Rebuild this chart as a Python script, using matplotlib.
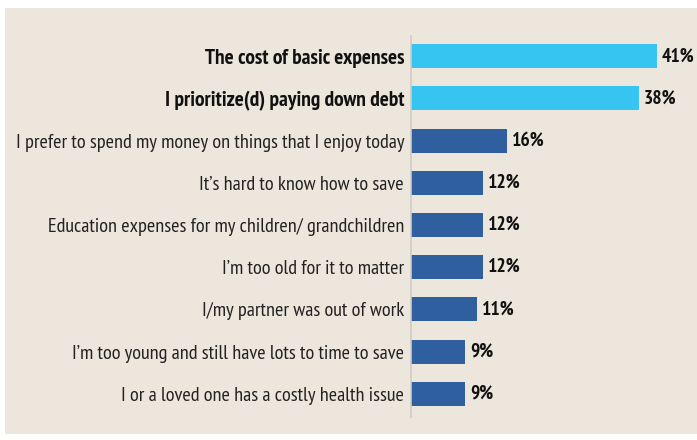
import matplotlib.pyplot as plt
from matplotlib.patches import Rectangle

reasons = [
    "The cost of basic expenses",
    "I prioritize(d) paying down debt",
    "I prefer to spend my money on things that I enjoy today",
    "It\u2019s hard to know how to save",
    "Education expenses for my children/ grandchildren",
    "I\u2019m too old for it to matter",
    "I/my partner was out of work",
    "I\u2019m too young and still have lots to time to save",
    "I or a loved one has a costly health issue",
]
shares = [41, 38, 16, 12, 12, 12, 11, 9, 9]
highlight = [True, True, False, False, False, False, False, False, False]

BG = "#ede6dc"
LIGHT = "#36c5f0"
DARK = "#2f5f9e"

plt.rcParams['font.family'] = ['PT Sans Narrow', 'DejaVu Sans']

W, H = 697, 440
fig = plt.figure(figsize=(W / 100, H / 100), dpi=100)
fig.patch.set_facecolor("white")
# beige panel behind the chart
panel = Rectangle((5 / W, 1 - 434 / H), (W - 5) / W, (434 - 8) / H,
                  transform=fig.transFigure, facecolor=BG,
                  edgecolor="none", zorder=-10)
fig.add_artist(panel)

ax = fig.add_axes([411 / W, 1 - 417 / H, (W - 411) / W, (417 - 36) / H])
ax.set_facecolor("none")

ypos = list(range(len(reasons)))
colors = [LIGHT if h else DARK for h in highlight]
ax.barh(ypos, shares, height=0.57, color=colors, zorder=2)
ax.set_ylim(len(reasons) - 0.45, -0.48)
ax.set_xlim(0, (W - 411) / 6.0)

for y, v in zip(ypos, shares):
    ax.text(v + 0.85, y, f"{v}%", va="center", ha="left", fontsize=14,
            fontweight="bold", color="#111111")

ax.set_yticks(ypos)
ax.set_yticklabels(reasons, fontsize=14.6, color="#222222")
for lbl, h in zip(ax.get_yticklabels(), highlight):
    if h:
        lbl.set_fontweight("bold")
        lbl.set_fontsize(15.4)
        lbl.set_color("#111111")
ax.tick_params(axis="y", length=0, pad=5)
ax.set_xticks([])
for s in ["top", "right", "bottom"]:
    ax.spines[s].set_visible(False)
ax.spines["left"].set_color("#cfcbc5")
ax.spines["left"].set_linewidth(1.2)

fig.savefig("out.png", dpi=100, facecolor="white")
